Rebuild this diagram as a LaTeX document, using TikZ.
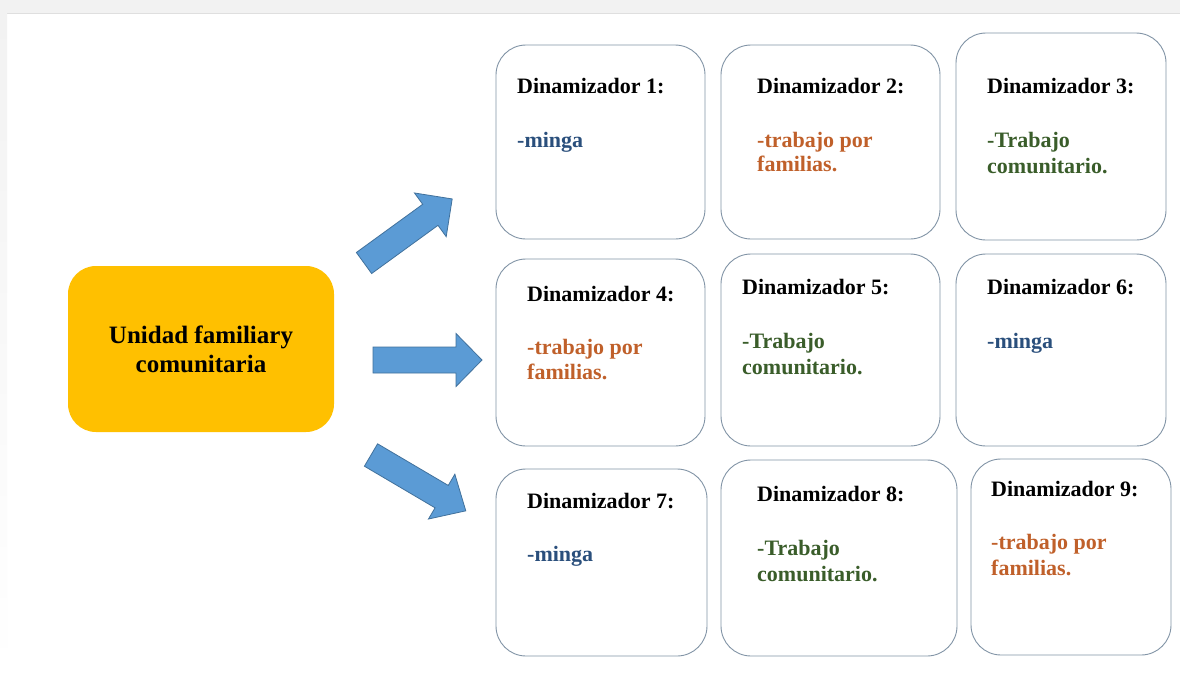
\documentclass[tikz,border=0pt]{standalone}
\usepackage{fontspec}
\setmainfont{Liberation Serif}
\definecolor{bordergray}{HTML}{8294A6}
\definecolor{mingablue}{HTML}{2A4F7C}
\definecolor{famorange}{HTML}{C0602A}
\definecolor{comgreen}{HTML}{3A5D2A}
\definecolor{unitgold}{HTML}{FFC000}
\definecolor{arrowfill}{HTML}{5B9BD5}
\definecolor{arrowedge}{HTML}{41719C}
\definecolor{bandgray}{HTML}{F2F2F2}
\newcommand\myblockarrow[4]{% L, w, h, k
  \fill[arrowfill] (0,-#2) -- ({#1-#4},-#2) -- ({#1-#4},-#3) -- (#1,0) -- ({#1-#4},#3) -- ({#1-#4},#2) -- (0,#2) -- cycle;
  \draw[arrowedge,line width=0.8pt,line join=miter] (0,-#2) -- ({#1-#4},-#2) -- ({#1-#4},-#3) -- (#1,0) -- ({#1-#4},#3) -- ({#1-#4},#2) -- (0,#2) -- cycle;}
\begin{document}
\begin{tikzpicture}[x=1pt,y=-1pt,
  dbox/.style={draw=bordergray,line width=0.9pt,rounded corners=30pt,fill=white,inner sep=0pt},
  ttl/.style={anchor=base west,inner sep=0pt,font=\fontsize{22}{25}\selectfont\bfseries,text=black},
  bmin/.style={anchor=base west,inner sep=0pt,font=\fontsize{22}{25}\selectfont\bfseries,text=mingablue},
  bfam/.style={anchor=base west,inner sep=0pt,font=\fontsize{22}{25}\selectfont\bfseries,text=famorange},
  bcom/.style={anchor=base west,inner sep=0pt,font=\fontsize{22}{25}\selectfont\bfseries,text=comgreen},
  unit/.style={fill=unitgold,rounded corners=28pt,inner sep=0pt,align=center,
     font=\fontsize{25}{29}\selectfont\bfseries,text=black}]
\useasboundingbox (0,0) rectangle (1180,673);
\fill[white] (0,0) rectangle (1180,673);
\fill[bandgray] (0,0) rectangle (1180,13);
\draw[gray!25,line width=0.8pt] (7,13.4) -- (1180,13.4);
\shade[top color=bandgray,bottom color=white] (0,13) rectangle (7,673);

% central node
\node[unit,minimum width=266pt,minimum height=166pt] (u) at (201,349) {Unidad familiary\\comunitaria};

% arrows
\begin{scope}[shift={(364,263)},rotate=36]
  \coordinate (a1t) at (0,0);
  \myblockarrow{109}{13}{27}{27}
\end{scope}
\begin{scope}[shift={(373,360)}]
  \coordinate (a2t) at (0,0);
  \myblockarrow{109}{13}{26.5}{26}
\end{scope}
\begin{scope}[shift={(371,455)},rotate=-30.5]
  \coordinate (a3t) at (0,0);
  \myblockarrow{110}{13}{26}{28}
\end{scope}

% boxes
\node[dbox,minimum width=209pt,minimum height=194pt] (b1) at (600.5,142) {};
\node[dbox,minimum width=219pt,minimum height=194pt] (b2) at (830.5,142) {};
\node[dbox,minimum width=210pt,minimum height=207pt] (b3) at (1061,136.5) {};
\node[dbox,minimum width=209pt,minimum height=187pt] (b4) at (600.5,352.5) {};
\node[dbox,minimum width=219pt,minimum height=192pt] (b5) at (830.5,350) {};
\node[dbox,minimum width=210pt,minimum height=192pt] (b6) at (1061,350) {};
\node[dbox,minimum width=211pt,minimum height=187pt] (b7) at (601.5,562.5) {};
\node[dbox,minimum width=236pt,minimum height=196pt] (b8) at (839,558) {};
\node[dbox,minimum width=200pt,minimum height=196pt] (b9) at (1071,557) {};

% texts
\node[ttl] (t1) at (517,93) {Dinamizador 1:};
\node[bmin] (c1) at (517,147) {-minga};

\node[ttl] (t2) at (757,93) {Dinamizador 2:};
\node[bfam] (c2a) at (757,147) {-trabajo por};
\node[bfam] (c2b) at (757,171) {familias.};

\node[ttl] (t3) at (987,93) {Dinamizador 3:};
\node[bcom] (c3a) at (987,147) {-Trabajo};
\node[bcom] (c3b) at (987,173) {comunitario.};

\node[ttl] (t4) at (527,301) {Dinamizador 4:};
\node[bfam] (c4a) at (527,354) {-trabajo por};
\node[bfam] (c4b) at (527,379) {familias.};

\node[ttl] (t5) at (742,294) {Dinamizador 5:};
\node[bcom] (c5a) at (742,348) {-Trabajo};
\node[bcom] (c5b) at (742,374) {comunitario.};

\node[ttl] (t6) at (987,294) {Dinamizador 6:};
\node[bmin] (c6) at (987,348) {-minga};

\node[ttl] (t7) at (527,508) {Dinamizador 7:};
\node[bmin] (c7) at (527,561) {-minga};

\node[ttl] (t8) at (757,501) {Dinamizador 8:};
\node[bcom] (c8a) at (757,555) {-Trabajo};
\node[bcom] (c8b) at (757,581) {comunitario.};

\node[ttl] (t9) at (991,496) {Dinamizador 9:};
\node[bfam] (c9a) at (991,549) {-trabajo por};
\node[bfam] (c9b) at (991,575) {familias.};
\end{tikzpicture}
\end{document}
